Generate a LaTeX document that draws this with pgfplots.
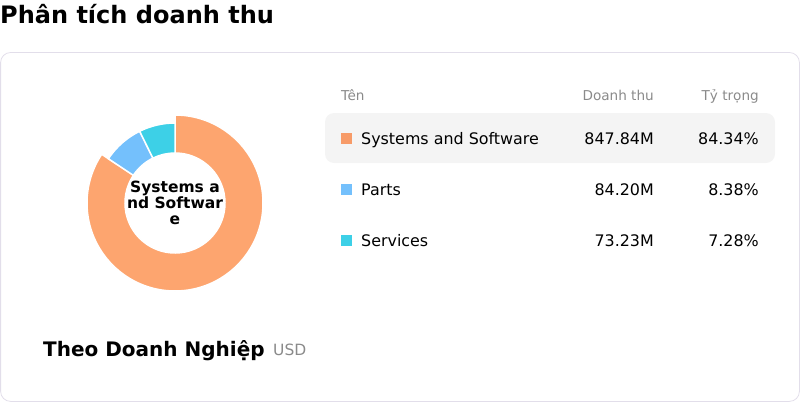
\documentclass[border=0pt]{standalone}
\usepackage{fontspec}
\setmainfont{DejaVu Sans}
\usepackage{pgfplots}
\usepackage{pgfplotstable}
\pgfplotsset{compat=1.18}

\definecolor{sysc}{HTML}{FDA56F}
\definecolor{sysk}{HTML}{F79B68}
\definecolor{partc}{HTML}{74C0FC}
\definecolor{servc}{HTML}{3DD0E7}
\definecolor{cardline}{HTML}{E2DEEA}
\definecolor{rowbg}{HTML}{F4F4F4}
\definecolor{headgray}{HTML}{8A8A8A}

% revenue by segment (millions USD) and share (%)
\pgfplotstableread[col sep=comma]{
name,value,share
Systems and Software,847.84,84.34
Parts,84.20,8.38
Services,73.23,7.28
}\revtable

% angles of the donut, clockwise from the top
\pgfplotstablegetelem{0}{share}\of\revtable \let\sa\pgfplotsretval
\pgfplotstablegetelem{1}{share}\of\revtable \let\sb\pgfplotsretval
\pgfplotstablegetelem{2}{share}\of\revtable \let\sc\pgfplotsretval
\pgfmathsetmacro\aA{90}
\pgfmathsetmacro\aB{\aA-3.6*\sa}
\pgfmathsetmacro\aC{\aB-3.6*\sb}
\pgfmathsetmacro\aD{\aC-3.6*\sc}

\newcommand\donutpart[5]{% color, start, end, outer r, inner r
  \filldraw[fill=#1, draw=white, line width=1.5pt]
    ([shift={(#2:#4pt)}]axis cs:175,203) arc[start angle=#2, end angle=#3, radius=#4pt]
    -- ([shift={(#3:#5pt)}]axis cs:175,203) arc[start angle=#3, end angle=#2, radius=#5pt]
    -- cycle;}

\begin{document}
\begin{tikzpicture}
\begin{axis}[
  width=800pt, height=402pt, scale only axis,
  xmin=0, xmax=800, ymin=0, ymax=402, y dir=reverse,
  hide axis, clip=false,
]
\path (axis cs:0,0) rectangle (axis cs:800,402);

% title
\node[anchor=base west, inner sep=0pt, font=\fontsize{24}{28}\selectfont\bfseries]
  at (axis cs:0,23) {Phân tích doanh thu};

% card
\draw[cardline, line width=0.8pt, rounded corners=10pt]
  (axis cs:0.6,52.5) rectangle (axis cs:799.4,401.4);

% donut
\donutpart{sysc}{\aA}{\aB}{88}{50}
\donutpart{partc}{\aB}{\aC}{80}{50}
\donutpart{servc}{\aC}{\aD}{80}{50}
\node[align=center, font=\fontsize{15.5}{16}\selectfont\bfseries, inner sep=0pt]
  at (axis cs:175,203) {Systems a\\nd Softwar\\e};

% table
\fill[rowbg, rounded corners=9pt] (axis cs:325,113) rectangle (axis cs:775,163);
\begin{scope}[font=\fontsize{13.6}{16}\selectfont, text=headgray]
\node[anchor=base west, inner sep=0pt] at (axis cs:341,100) {Tên};
\node[anchor=base east, inner sep=0pt] at (axis cs:654,100) {Doanh thu};
\node[anchor=base east, inner sep=0pt] at (axis cs:759,100) {Tỷ trọng};
\end{scope}

\addplot[only marks, mark=square*, mark size=5pt, mark options={draw=sysk, fill=sysk}]
  coordinates {(346,138)};
\addplot[only marks, mark=square*, mark size=5pt, mark options={draw=partc, fill=partc}]
  coordinates {(346,189)};
\addplot[only marks, mark=square*, mark size=5pt, mark options={draw=servc, fill=servc}]
  coordinates {(346,240)};

\begin{scope}[font=\fontsize{15.9}{18}\selectfont]
\node[anchor=base west, inner sep=0pt] at (axis cs:361,144) {Systems and Software};
\node[anchor=base east, inner sep=0pt] at (axis cs:654,144) {847.84M};
\node[anchor=base east, inner sep=0pt] at (axis cs:759,144) {84.34\%};
\node[anchor=base west, inner sep=0pt] at (axis cs:361,195) {Parts};
\node[anchor=base east, inner sep=0pt] at (axis cs:654,195) {84.20M};
\node[anchor=base east, inner sep=0pt] at (axis cs:759,195) {8.38\%};
\node[anchor=base west, inner sep=0pt] at (axis cs:361,246) {Services};
\node[anchor=base east, inner sep=0pt] at (axis cs:654,246) {73.23M};
\node[anchor=base east, inner sep=0pt] at (axis cs:759,246) {7.28\%};
\end{scope}

% footer
\node[anchor=base west, inner sep=0pt, font=\fontsize{20}{24}\selectfont\bfseries]
  at (axis cs:43,356) {Theo Doanh Nghiệp};
\node[anchor=base west, inner sep=0pt, font=\fontsize{15.5}{18}\selectfont, text=headgray]
  at (axis cs:273,355) {USD};
\end{axis}
\end{tikzpicture}
\end{document}
